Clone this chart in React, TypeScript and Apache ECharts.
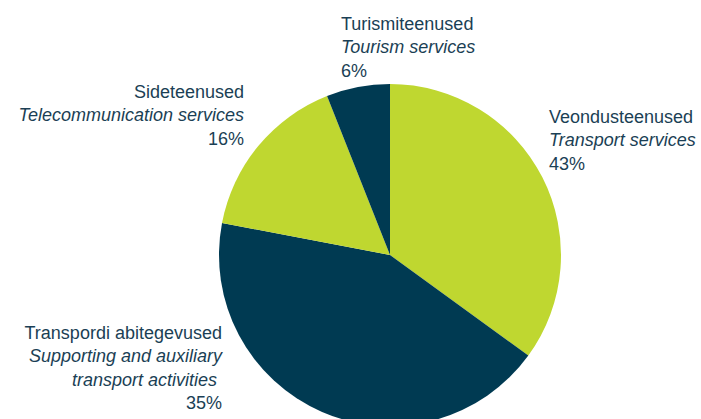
import React, { useEffect, useRef } from "react";
import * as echarts from "echarts";

const categories = ["Veondusteenused", "Transpordi abitegevused", "Sideteenused", "Turismiteenused"];
const englishNames = ["Transport services", "Supporting and auxiliary\ntransport activities ", "Telecommunication services", "Tourism services"];
const sliceValues = [35, 43, 16, 6];
const labelPercents = [43, 35, 16, 6];
const sliceColors = ["#BFD730", "#003A52", "#BFD730", "#003A52"];

// label anchor positions (left/right edge, top of text block)
const labelAnchors = [
  { x: 549, y: 105, align: "left" },
  { x: 222, y: 321, align: "right" },
  { x: 244, y: 80, align: "right" },
  { x: 341, y: 12, align: "left" },
];

const TEXT = "#1B3F55";
const FONT = "'Liberation Sans', Arial, sans-serif";

export default function App() {
  const ref = useRef<HTMLDivElement>(null);
  useEffect(() => {
    document.body.style.margin = "0";
    const chart = echarts.init(ref.current!, null, { renderer: "svg" });
    const rich = {
      n: { fontSize: 18, lineHeight: 23.5, color: TEXT, fontFamily: FONT },
      e: { fontSize: 18, lineHeight: 23.5, color: TEXT, fontStyle: "italic", fontFamily: FONT },
      p: { fontSize: 18, lineHeight: 23.5, color: TEXT, fontFamily: FONT },
    };
    chart.setOption({
      animation: false,
      backgroundColor: "#ffffff",
      series: [
        {
          type: "pie",
          center: [390, 255],
          radius: 171,
          startAngle: 90,
          clockwise: true,
          avoidLabelOverlap: false,
          itemStyle: { borderWidth: 0 },
          labelLine: { show: false },
          label: {
            show: true,
            position: "outside",
            formatter: (p: any) => {
              const i = p.dataIndex;
              const eng = englishNames[i].split("\n").map((s) => `{e|${s}}`).join("\n");
              return `{n|${categories[i]}}\n${eng}\n{p|${labelPercents[i]}%}`;
            },
            rich,
          },
          labelLayout: (params: any) => {
            const a = labelAnchors[params.dataIndex];
            return { x: a.x, y: a.y, align: a.align, verticalAlign: "top", hideOverlap: false };
          },
          data: categories.map((c, i) => ({
            name: c,
            value: sliceValues[i],
            itemStyle: { color: sliceColors[i] },
          })),
        },
      ],
    });
    return () => chart.dispose();
  }, []);
  return <div ref={ref} style={{ width: 701, height: 419 }} />;
}
